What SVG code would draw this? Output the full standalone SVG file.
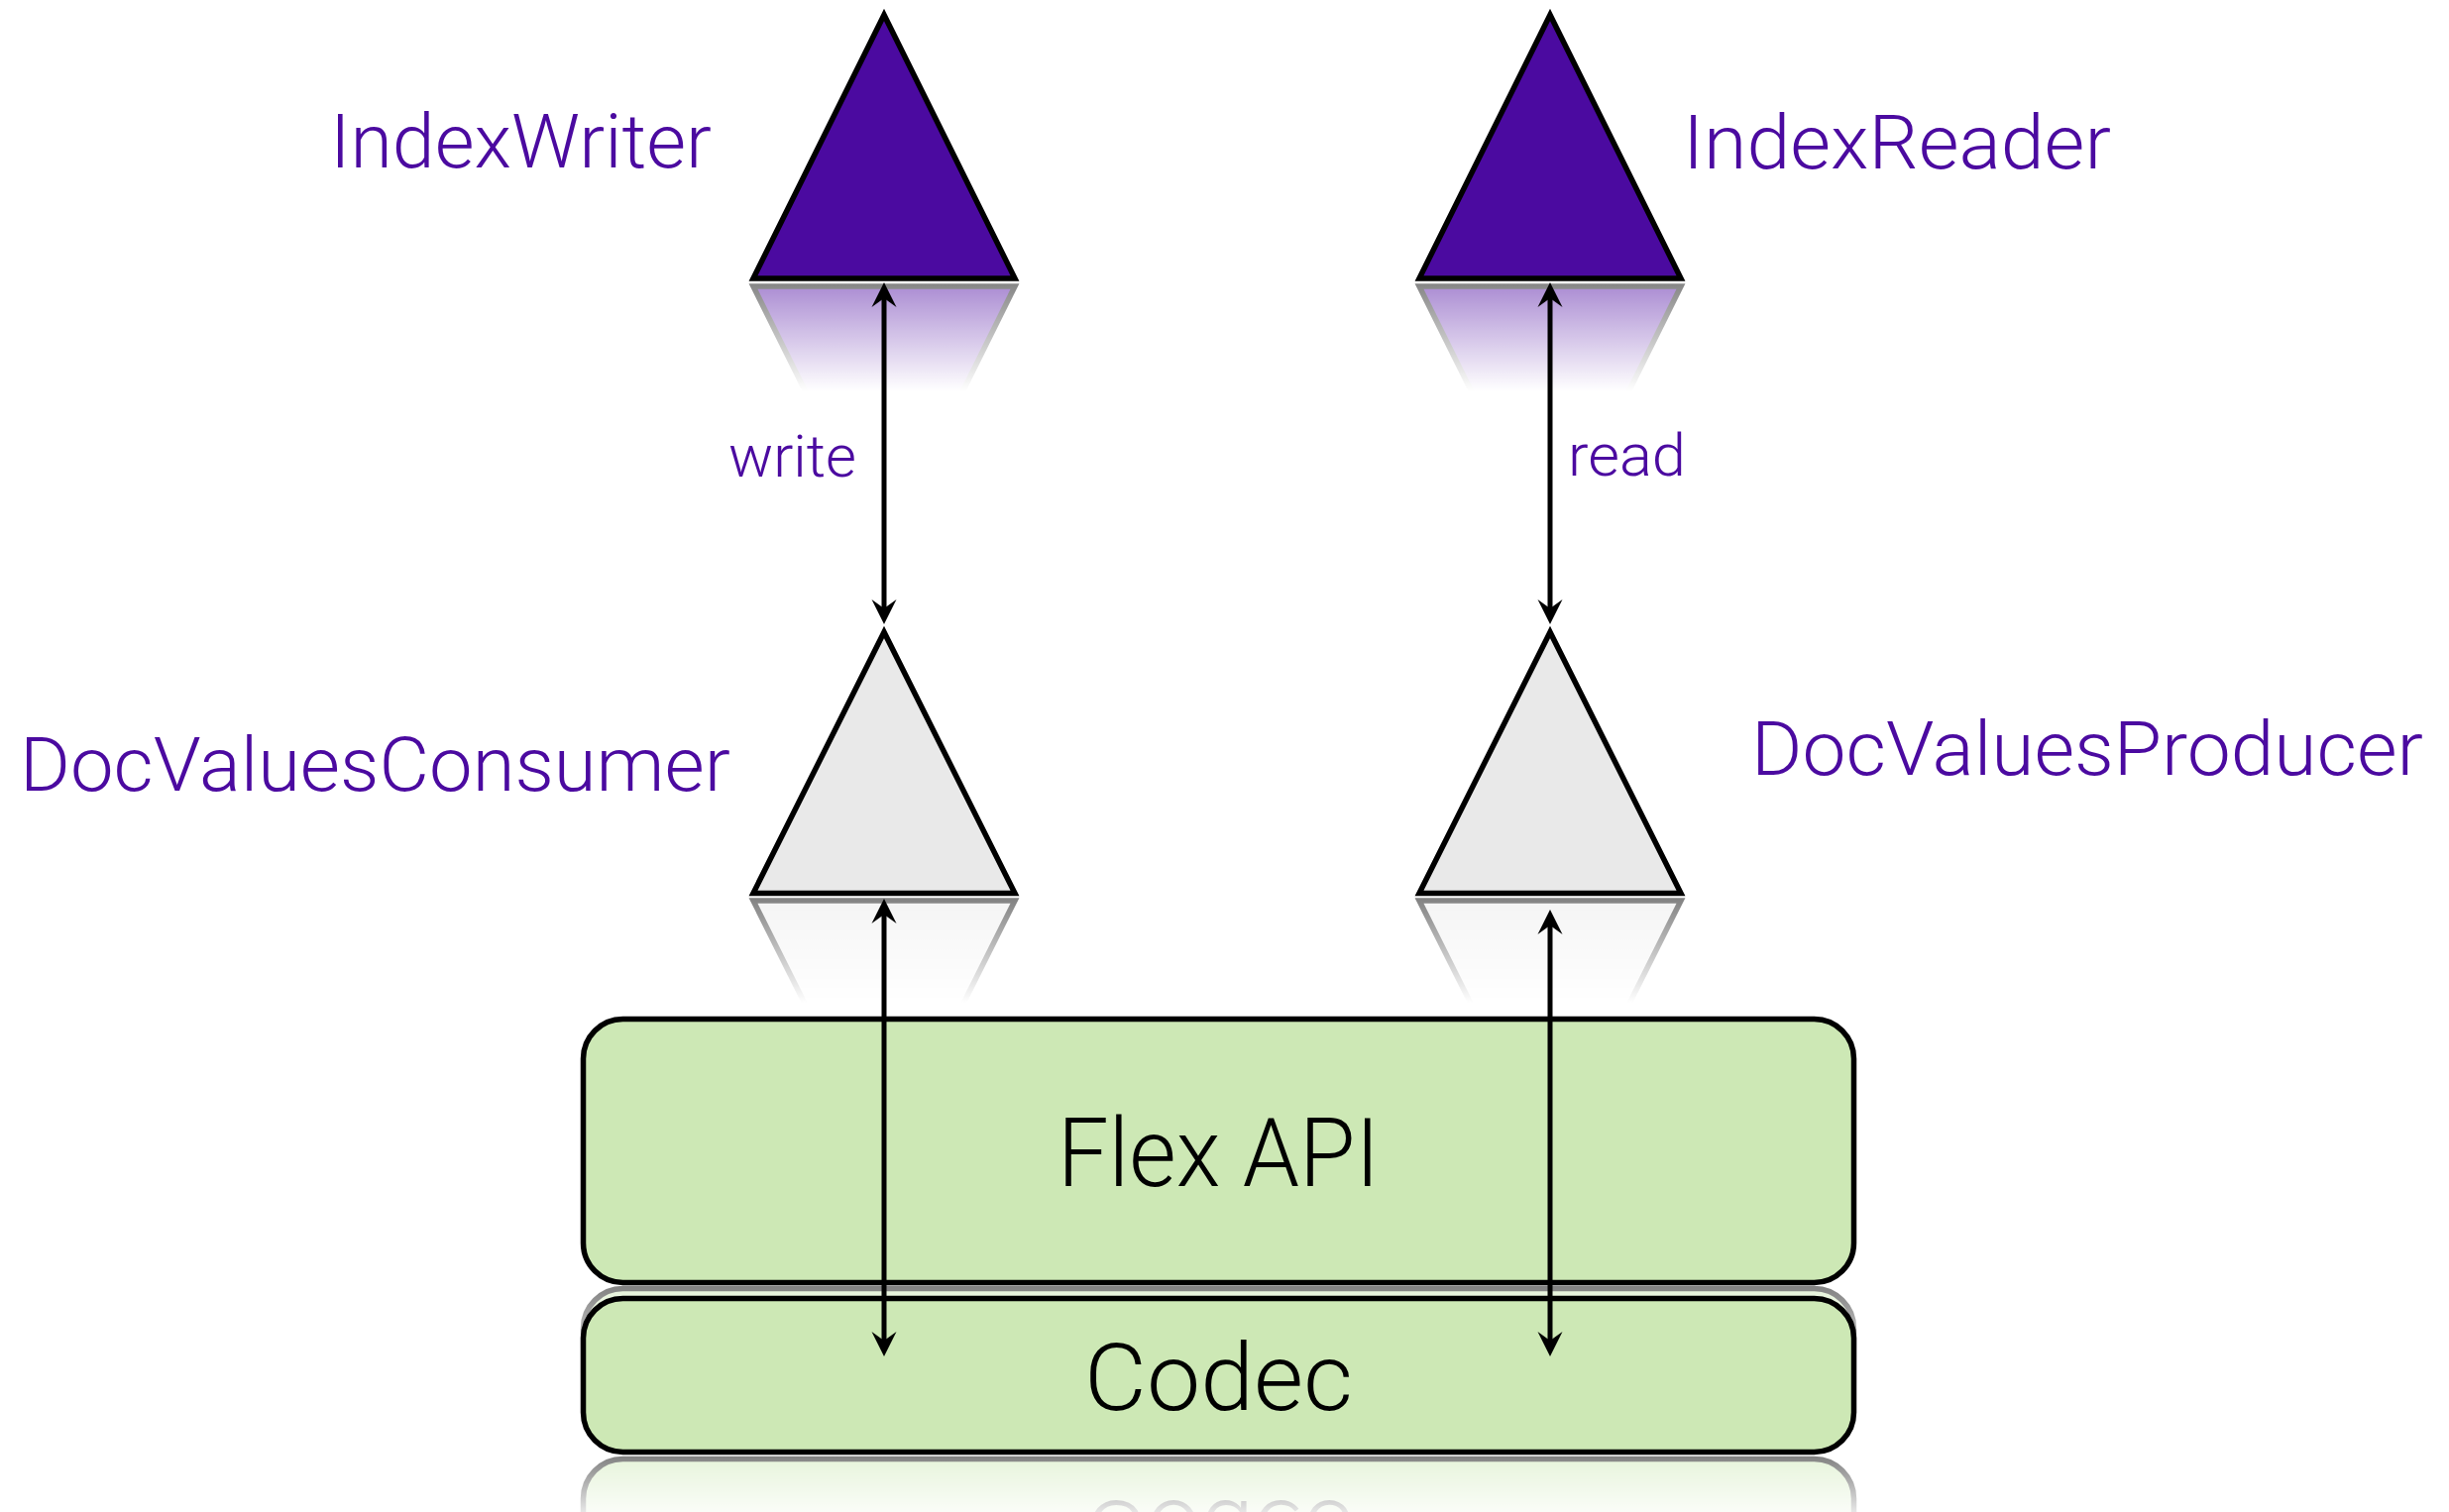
<svg xmlns="http://www.w3.org/2000/svg" xmlns:xlink="http://www.w3.org/1999/xlink" width="2471" height="1526" viewBox="0 0 2471 1526">
  <defs>
    <style>
      .tri-dark { fill: #4b0aa0; stroke: #000; stroke-width: 5.5; stroke-linejoin: miter; }
      .tri-light { fill: #e9e9e9; stroke: #000; stroke-width: 5.5; stroke-linejoin: miter; }
      .layer { fill: #cde8b5; stroke: #000; stroke-width: 5.5; }
      .label { font-family: Roboto, "Liberation Sans", Arial, sans-serif; font-weight: 300; fill: #4b0aa0; }
      .big { font-size: 76px; }
      .small { font-size: 60px; }
      .layer-text { font-family: Roboto, "Liberation Sans", Arial, sans-serif; font-weight: 300; fill: #000; }
      .link { fill: none; stroke: #000; stroke-width: 5; marker-start: url(#head); marker-end: url(#head); }
    </style>

    <!-- concave arrowhead; tip sits 16px beyond the line end -->
    <marker id="head" viewBox="-12 -15 30 30" markerWidth="30" markerHeight="30" refX="0" refY="0" markerUnits="userSpaceOnUse" orient="auto-start-reverse">
      <path d="M16,0 L-9,-12.5 L0,0 L-9,12.5 Z" fill="#000"/>
    </marker>

    <!-- fading masks for the mirrored reflections -->
    <linearGradient id="g-top" gradientUnits="userSpaceOnUse" x1="0" y1="285" x2="0" y2="395">
      <stop offset="0" stop-color="#fff" stop-opacity="0.48"/>
      <stop offset="1" stop-color="#fff" stop-opacity="0"/>
    </linearGradient>
    <linearGradient id="g-mid" gradientUnits="userSpaceOnUse" x1="0" y1="905" x2="0" y2="1012">
      <stop offset="0" stop-color="#fff" stop-opacity="0.5"/>
      <stop offset="1" stop-color="#fff" stop-opacity="0"/>
    </linearGradient>
    <linearGradient id="g-flex" gradientUnits="userSpaceOnUse" x1="0" y1="1297" x2="0" y2="1400">
      <stop offset="0" stop-color="#fff" stop-opacity="0.5"/>
      <stop offset="1" stop-color="#fff" stop-opacity="0"/>
    </linearGradient>
    <linearGradient id="g-codec" gradientUnits="userSpaceOnUse" x1="0" y1="1469" x2="0" y2="1540">
      <stop offset="0" stop-color="#fff" stop-opacity="0.5"/>
      <stop offset="1" stop-color="#fff" stop-opacity="0"/>
    </linearGradient>
    <mask id="fade-top" maskUnits="userSpaceOnUse" x="0" y="0" width="2471" height="1526">
      <rect x="0" y="285" width="2471" height="120" fill="url(#g-top)"/>
    </mask>
    <mask id="fade-mid" maskUnits="userSpaceOnUse" x="0" y="0" width="2471" height="1526">
      <rect x="0" y="905" width="2471" height="120" fill="url(#g-mid)"/>
    </mask>
    <mask id="fade-flex" maskUnits="userSpaceOnUse" x="0" y="0" width="2471" height="1526">
      <rect x="0" y="1297" width="2471" height="120" fill="url(#g-flex)"/>
    </mask>
    <mask id="fade-codec" maskUnits="userSpaceOnUse" x="0" y="0" width="2471" height="1526">
      <rect x="0" y="1469" width="2471" height="80" fill="url(#g-codec)"/>
    </mask>
  </defs>

  <rect x="0" y="0" width="2471" height="1526" fill="#fff"/>

  <!-- IndexWriter -->
  <g id="index-writer">
    <polygon id="tri-writer" class="tri-dark" points="892,15 760,281 1024,281"/>
    <g mask="url(#fade-top)">
      <use xlink:href="#tri-writer" href="#tri-writer" transform="translate(0,570) scale(1,-1)"/>
    </g>
    <text class="label big" x="333" y="169" textLength="385" lengthAdjust="spacingAndGlyphs">IndexWriter</text>
  </g>

  <!-- IndexReader -->
  <g id="index-reader">
    <polygon id="tri-reader" class="tri-dark" points="1564,15 1432,281 1696,281"/>
    <g mask="url(#fade-top)">
      <use xlink:href="#tri-reader" href="#tri-reader" transform="translate(0,570) scale(1,-1)"/>
    </g>
    <text class="label big" x="1698" y="170" textLength="432" lengthAdjust="spacingAndGlyphs">IndexReader</text>
  </g>

  <!-- DocValuesConsumer -->
  <g id="doc-values-consumer">
    <polygon id="tri-consumer" class="tri-light" points="892,638 760,901.5 1024,901.5"/>
    <g mask="url(#fade-mid)">
      <use xlink:href="#tri-consumer" href="#tri-consumer" transform="translate(0,1810.5) scale(1,-1)"/>
    </g>
    <text class="label big" x="20" y="798" textLength="717" lengthAdjust="spacingAndGlyphs">DocValuesConsumer</text>
  </g>

  <!-- DocValuesProducer -->
  <g id="doc-values-producer">
    <polygon id="tri-producer" class="tri-light" points="1564,638 1432,901.5 1696,901.5"/>
    <g mask="url(#fade-mid)">
      <use xlink:href="#tri-producer" href="#tri-producer" transform="translate(0,1810.5) scale(1,-1)"/>
    </g>
    <text class="label big" x="1767" y="782" textLength="678" lengthAdjust="spacingAndGlyphs">DocValuesProducer</text>
  </g>

  <!-- Flex API layer -->
  <g id="flex-api">
    <g id="flex-shape">
      <rect class="layer" x="588.5" y="1028.5" width="1282" height="266" rx="40" ry="40"/>
      <text class="layer-text" x="1067" y="1197" font-size="96" textLength="325" lengthAdjust="spacingAndGlyphs">Flex API</text>
    </g>
    <g mask="url(#fade-flex)">
      <use xlink:href="#flex-shape" href="#flex-shape" transform="translate(0,2595) scale(1,-1)"/>
    </g>
  </g>

  <!-- Codec layer -->
  <g id="codec">
    <g id="codec-shape">
      <rect class="layer" x="588.5" y="1310.5" width="1282" height="155" rx="40" ry="40"/>
      <text class="layer-text" x="1094" y="1423" font-size="94" textLength="271" lengthAdjust="spacingAndGlyphs">Codec</text>
    </g>
    <g mask="url(#fade-codec)">
      <use xlink:href="#codec-shape" href="#codec-shape" transform="translate(0,2938) scale(1,-1)"/>
    </g>
  </g>

  <!-- connectors (double-headed) -->
  <g id="connectors">
    <path class="link" d="M892,301 L892,614"/>
    <path class="link" d="M1564,301 L1564,614"/>
    <path class="link" d="M892,923 L892,1353"/>
    <path class="link" d="M1564,934 L1564,1353"/>
    <text class="label small" x="735" y="481" textLength="129" lengthAdjust="spacingAndGlyphs">write</text>
    <text class="label small" x="1582" y="480" textLength="119" lengthAdjust="spacingAndGlyphs">read</text>
  </g>
</svg>
